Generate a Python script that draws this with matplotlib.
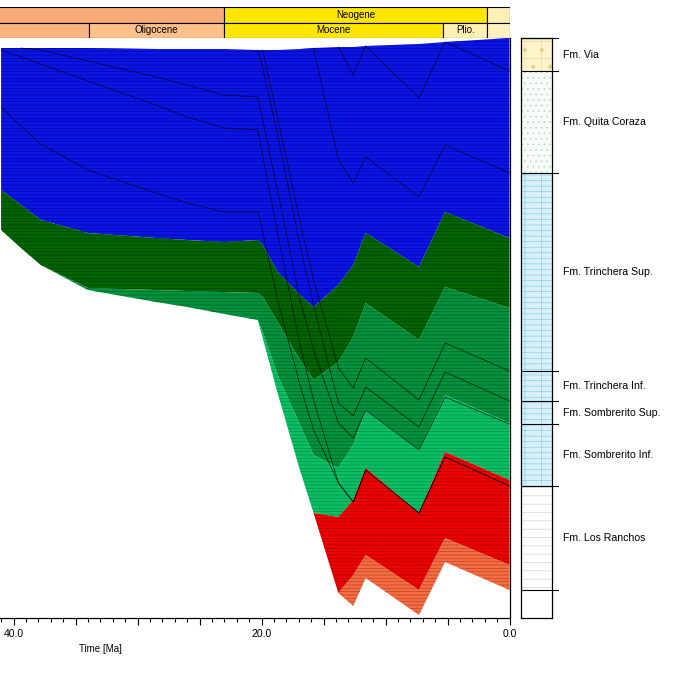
import numpy as np
import matplotlib
matplotlib.use("Agg")
import matplotlib.pyplot as plt
from matplotlib.patches import Rectangle
from matplotlib.ticker import MultipleLocator, FuncFormatter

plt.rcParams["font.family"] = ["Liberation Sans", "DejaVu Sans"]
plt.rcParams["hatch.linewidth"] = 0.4

nan = np.nan

########  data  ########

# time nodes [Ma]
age = [41.0, 39.4, 37.8, 34.0, 28.5, 26.0, 23.0, 20.3, 19.9, 18.7,
       16.9, 15.8, 13.8, 12.6, 11.6, 7.3, 5.2, 0.0]

# depth [m] of the surface and of the base of the section
surface = [100, 100, 100, 100, 110, 110, 110, 120, 120, 120,
           110, 100, 90, 90, 80, 60, 40, 0]
basement = [1920, 2100, 2270, 2520, 2640, 2690, 2760, 2820, 3000, 3550,
            4320, 4750, 5550, 5680, 5400, 5770, 5240, 5520]

# base of each coloured zone (nan = zone not present there)
blue_base = [1520, 1670, 1820, 1950, 2000, 2020, 2040, 2020, 2070, 2340,
             2570, 2690, 2470, 2270, 1950, 2290, 1740, 2000]
dkgreen_base = [nan, nan, nan, 2500, 2520, 2530, 2540, 2550, 2590, 2840,
                3220, 3420, 3240, 2990, 2650, 3020, 2490, 2700]
green_base = [nan, nan, nan, nan, nan, nan, nan, nan, 2940, 3370,
              3870, 4170, 4300, 4070, 3720, 4120, 3570, 3850]
bright_base = [nan, nan, nan, nan, nan, nan, nan, nan, nan, nan,
               nan, nan, 4790, 4620, 4300, 4750, 4140, 4420]
red_base = [nan, nan, nan, nan, nan, nan, nan, nan, nan, nan,
            nan, nan, nan, 5370, 5170, 5520, 5000, 5270]

zone_colors = ["#0c16e4", "#006400", "#00923c", "#08c062", "#ee0000", "#f86a40"]
hatch_colors = ["#00009a", "#003c00", "#005a22", "#067e46", "#9a0000", "#a04428"]

# horizons (depth [m] through time)
hz_via = [nan] * 16 + [40, 330]
hz_quita = [nan] * 11 + [100, 1220, 1450, 1190, 1590, 1070, 1350]
hz_trinch_sup = [nan] * 8 + [120, 800, 1830, 2420, 3300, 3500, 3200, 3620, 3050, 3330]
hz_trinch_inf = [nan] * 7 + [120, 300, 970, 2070, 2670, 3650, 3780, 3490, 3890, 3340, 3630]
hz_somb_sup = [nan, 100, 120, 230, 390, 470, 570, 590, 820, 1530,
               2620, 3120, 3850, 4000, 3720, 4120, 3590, 3860]
hz_somb_inf = [120, 190, 260, 430, 670, 790, 900, 920, 1180, 1950,
               3070, 3620, 4450, 4640, 4320, 4750, 4190, 4480]
hz_ranchos = [690, 880, 1060, 1320, 1550, 1650, 1740, 1740, 1940, 2620,
              3470, 3920, 4450, 4640, 4320, 4750, 4190, 4480]
hz_eros1 = [nan] * 12 + [90, 370, 80, nan, nan, nan]
hz_eros2 = [nan] * 14 + [80, 600, 40, nan]

# stratigraphic chart
period_names = ["Paleogene", "Neogene", ""]
period_start = [65.5, 23.03, 1.8]
period_end = [23.03, 1.8, 0.0]
period_colors = ["#f8aa78", "#ffe600", "#fff0b4"]
epoch_names = ["Eocene", "Oligocene", "Mocene", "Plio.", ""]
epoch_start = [55.8, 33.9, 23.03, 5.33, 1.8]
epoch_end = [33.9, 23.03, 5.33, 1.8, 0.0]
epoch_colors = ["#fab482", "#fec08a", "#ffe600", "#fff0b4", "#fff2c0"]

# present-day formation column
fm_names = ["Fm. Via", "Fm. Quita Coraza", "Fm. Trinchera Sup.", "Fm. Trinchera Inf.",
            "Fm. Sombrerito Sup.", "Fm. Sombrerito Inf.", "Fm. Los Ranchos", ""]
fm_top = [0, 330, 1350, 3330, 3630, 3860, 4480, 5520]
fm_face = ["#fff5cd", "#f8fcf8", "#d8f0fa", "#d8f0fa", "#d8f0fa", "#d8f0fa", "#ffffff", "#ffffff"]
fm_hatch_color = ["#e6cf8a", "#a8d4b8", "#78c8e6", "#78c8e6", "#78c8e6", "#78c8e6", "#c8c8c8", "#ffffff"]
fm_hatch = ["+.", "...", "---|", "---|", "---|", "---|", "--", None]

########  layout  ########

W, H = 685, 682
t_left = 509.5 / 12.4
depth_max = 5800

fig = plt.figure(figsize=(W / 100, H / 100), dpi=100)
ax = fig.add_axes([0, 1 - 618 / H, 509.5 / W, 580 / H])
ax_head = fig.add_axes([0, 1 - 38 / H, 509.5 / W, 31 / H])
ax_col = fig.add_axes([521 / W, 1 - 618 / H, 31 / W, 580 / H])

########  burial plot  ########

base = np.array(basement, dtype=float)
bounds = [surface, blue_base, dkgreen_base, green_base, bright_base, red_base, basement]
bounds = [np.where(np.isnan(np.array(b, dtype=float)), base, b) for b in bounds]

for i in range(len(zone_colors)):
    ax.fill_between(age, bounds[i], bounds[i + 1], facecolor=zone_colors[i],
                    edgecolor=hatch_colors[i], hatch="-----", linewidth=0)

for hz in [hz_via, hz_quita, hz_trinch_sup, hz_trinch_inf, hz_somb_sup,
           hz_somb_inf, hz_ranchos, hz_eros1, hz_eros2]:
    ax.plot(age, hz, color="black", lw=0.5, alpha=0.8)

ax.set_xlim(t_left, 0)
ax.set_ylim(depth_max, 0)
ax.xaxis.set_major_locator(MultipleLocator(5))
ax.xaxis.set_minor_locator(MultipleLocator(1))
ax.xaxis.set_major_formatter(FuncFormatter(
    lambda v, p: f"{v:.1f}" if abs(v - round(v)) < 1e-6 and round(v) % 20 == 0 else ""))
ax.tick_params(axis="x", which="major", length=5, width=0.8, labelsize=7.5, pad=3)
ax.tick_params(axis="x", which="minor", length=3, width=0.8)
ax.set_yticks([])
ax.spines["left"].set_visible(False)
ax.spines["top"].set_visible(False)
ax.spines["right"].set_linewidth(0.9)
ax.spines["bottom"].set_linewidth(0.9)
fig.text(100 / W, 1 - 649 / H, "Time [Ma]", ha="center", va="center", fontsize=7)

########  stratigraphic chart  ########

ax_head.set_xlim(t_left, 0)
ax_head.set_ylim(0, 2)
ax_head.axis("off")
for names, starts, ends, colors, row in [
        (period_names, period_start, period_end, period_colors, 1),
        (epoch_names, epoch_start, epoch_end, epoch_colors, 0)]:
    for name, s, e, c in zip(names, starts, ends, colors):
        ax_head.add_patch(Rectangle((s, row), e - s, 1, facecolor=c,
                                    edgecolor="black", lw=0.8))
        mid = (s + e) / 2
        if name and mid < t_left:
            ax_head.text(mid, row + 0.5, name, ha="center", va="center", fontsize=7)

########  formation column  ########

ax_col.set_xlim(0, 1)
ax_col.set_ylim(depth_max, 0)
ax_col.set_xticks([])
ax_col.set_yticks([])
for sp in ax_col.spines.values():
    sp.set_linewidth(0.9)

fm_bottom = fm_top[1:] + [depth_max]
for name, top, bot, fc, hc, ht in zip(fm_names, fm_top, fm_bottom,
                                      fm_face, fm_hatch_color, fm_hatch):
    ax_col.axhspan(top, bot, facecolor=fc, edgecolor=hc, hatch=ht, lw=0)
    ax_col.plot([0, 1.2], [top, top], color="black", lw=0.8, clip_on=False)
    if name:
        ax_col.text(1.35, (top + bot) / 2, name, ha="left", va="center", fontsize=7.6)

fig.savefig("out.png", dpi=100)
